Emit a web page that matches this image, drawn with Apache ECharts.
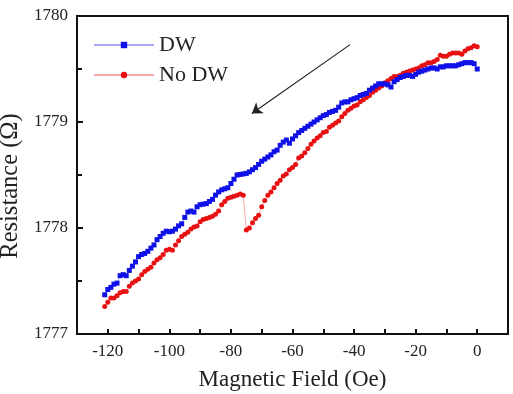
<!DOCTYPE html>
<html>
<head>
<meta charset="utf-8">
<script src="https://cdn.jsdelivr.net/npm/echarts@6/dist/echarts.min.js"></script>
<style>
  html, body { margin: 0; padding: 0; background: #fff; }
</style>
</head>
<body>
<div style="width:513px;height:394px;" id="mr_chart"></div>
<script>
// field sweep, Oe (-121 .. 0)
const fieldOe = [];
for (let f = -121; f <= 0; f++) fieldOe.push(f);

// resistance with a domain wall (Ohm)
const dwValues = [
    1777.37, 1777.42, 1777.44, 1777.47, 1777.48, 1777.55, 1777.56, 1777.55, 1777.60, 1777.64,
    1777.68, 1777.73, 1777.75, 1777.76, 1777.78, 1777.81, 1777.84, 1777.89, 1777.92, 1777.95,
    1777.97, 1777.965, 1777.97, 1777.99, 1778.02, 1778.04, 1778.10, 1778.15, 1778.16, 1778.15,
    1778.20, 1778.22, 1778.225, 1778.23, 1778.25, 1778.27, 1778.31, 1778.34, 1778.36, 1778.37,
    1778.38, 1778.42, 1778.46, 1778.50, 1778.505, 1778.51, 1778.515, 1778.53, 1778.55, 1778.57,
    1778.60, 1778.63, 1778.65, 1778.67, 1778.69, 1778.72, 1778.735, 1778.78, 1778.81, 1778.83,
    1778.80, 1778.84, 1778.87, 1778.90, 1778.92, 1778.94, 1778.96, 1778.98, 1779.00, 1779.02,
    1779.04, 1779.06, 1779.07, 1779.09, 1779.10, 1779.11, 1779.14, 1779.18, 1779.19, 1779.19,
    1779.21, 1779.22, 1779.23, 1779.25, 1779.26, 1779.27, 1779.30, 1779.32, 1779.34, 1779.36,
    1779.36, 1779.36, 1779.35, 1779.33, 1779.38, 1779.40, 1779.42, 1779.43, 1779.44, 1779.44,
    1779.43, 1779.45, 1779.47, 1779.48, 1779.49, 1779.50, 1779.51, 1779.51, 1779.50, 1779.52,
    1779.52, 1779.53, 1779.53, 1779.53, 1779.53, 1779.54, 1779.55, 1779.56, 1779.56, 1779.56,
    1779.55, 1779.50
];

// resistance without a domain wall (Ohm)
const noDwValues = [
    1777.26, 1777.30, 1777.34, 1777.34, 1777.36, 1777.39, 1777.40, 1777.40, 1777.45, 1777.48,
    1777.50, 1777.52, 1777.56, 1777.59, 1777.61, 1777.63, 1777.67, 1777.70, 1777.72, 1777.75,
    1777.79, 1777.80, 1777.79, 1777.84, 1777.88, 1777.92, 1777.94, 1777.96, 1777.99, 1778.01,
    1778.02, 1778.06, 1778.08, 1778.09, 1778.10, 1778.11, 1778.13, 1778.16, 1778.22, 1778.25,
    1778.28, 1778.29, 1778.30, 1778.31, 1778.32, 1778.31, 1777.98, 1778.00, 1778.05, 1778.09,
    1778.12, 1778.20, 1778.26, 1778.31, 1778.34, 1778.38, 1778.42, 1778.45, 1778.49, 1778.51,
    1778.55, 1778.57, 1778.60, 1778.66, 1778.68, 1778.71, 1778.75, 1778.79, 1778.82, 1778.85,
    1778.87, 1778.90, 1778.91, 1778.95, 1778.97, 1778.99, 1779.01, 1779.05, 1779.08, 1779.11,
    1779.13, 1779.15, 1779.16, 1779.19, 1779.21, 1779.23, 1779.25, 1779.28, 1779.30, 1779.32,
    1779.34, 1779.37, 1779.39, 1779.41, 1779.43, 1779.43, 1779.44, 1779.46, 1779.47, 1779.48,
    1779.49, 1779.50, 1779.51, 1779.53, 1779.54, 1779.56, 1779.56, 1779.57, 1779.59, 1779.63,
    1779.62, 1779.62, 1779.64, 1779.65, 1779.65, 1779.65, 1779.64, 1779.67, 1779.69, 1779.70,
    1779.72, 1779.71
];

// sweep direction arrow (data coords)
const arrowFrom = [-41.3, 1779.73];
const arrowTo = [-73.2, 1779.08];

const serif = '"Liberation Serif", "Times New Roman", serif';

function pairs(xs, ys) {
    return xs.map((x, i) => [x, ys[i]]);
}

const chart = echarts.init(document.getElementById('mr_chart'));
chart.setOption({
    animation: false,
    textStyle: { fontFamily: serif },
    grid: {
        left: 77, right: 5, top: 16, bottom: 60,
        outerBoundsMode: 'none',
        containLabel: false,
        show: true, borderColor: '#111', borderWidth: 2, backgroundColor: 'transparent'
    },
    legend: {
        left: 88, top: 29,
        orient: 'vertical',
        itemGap: 8,
        itemWidth: 60, itemHeight: 8,
        textStyle: { fontFamily: serif, fontSize: 22, color: '#222' },
        data: ['DW', 'No DW']
    },
    xAxis: {
        type: 'value',
        min: -130, max: 10, interval: 10,
        name: 'Magnetic Field (Oe)',
        nameLocation: 'middle',
        nameGap: 34,
        nameTextStyle: { fontFamily: serif, fontSize: 23, color: '#222' },
        axisLine: { onZero: false, lineStyle: { color: '#111', width: 2 } },
        axisTick: { inside: true, length: 5, lineStyle: { color: '#111', width: 2 } },
        axisLabel: {
            fontFamily: serif, fontSize: 17, color: '#222', margin: 9,
            formatter: v => (v % 20 === 0 && v >= -120 && v <= 0) ? String(v) : ''
        },
        splitLine: { show: false }
    },
    yAxis: {
        type: 'value',
        min: 1777, max: 1780, interval: 1,
        name: 'Resistance (Ω)',
        nameLocation: 'middle',
        nameGap: 45,
        nameTextStyle: { fontFamily: serif, fontSize: 24.5, color: '#222', padding: [0, 22, 0, 0] },
        axisLine: { onZero: false, lineStyle: { color: '#111', width: 2 } },
        axisTick: { inside: true, length: 6, lineStyle: { color: '#111', width: 2 } },
        minorTick: { show: true, splitNumber: 2, length: 5, lineStyle: { color: '#111', width: 2 } },
        axisLabel: {
            fontFamily: serif, fontSize: 17, color: '#222', margin: 9,
            formatter: v => String(v)
        },
        splitLine: { show: false }
    },
    series: [
        {
            name: 'DW',
            type: 'line',
            data: pairs(fieldOe, dwValues),
            symbol: 'rect',
            symbolSize: 5,
            itemStyle: { color: '#1010e8' },
            lineStyle: { color: '#a8a8f4', width: 1 },
            z: 3
        },
        {
            name: 'No DW',
            type: 'line',
            data: pairs(fieldOe, noDwValues),
            symbol: 'circle',
            symbolSize: 5,
            itemStyle: { color: '#e81010' },
            lineStyle: { color: '#f4a8a8', width: 1 },
            z: 2,
            markLine: {
                silent: true,
                symbol: ['none', 'arrow'],
                symbolSize: 10,
                label: { show: false },
                lineStyle: { color: '#222', width: 1.2, type: 'solid' },
                data: [[{ coord: arrowFrom }, { coord: arrowTo }]]
            }
        }
    ]
});

window.addEventListener('resize', function () {
    chart.resize();
});
</script>
</body>
</html>
